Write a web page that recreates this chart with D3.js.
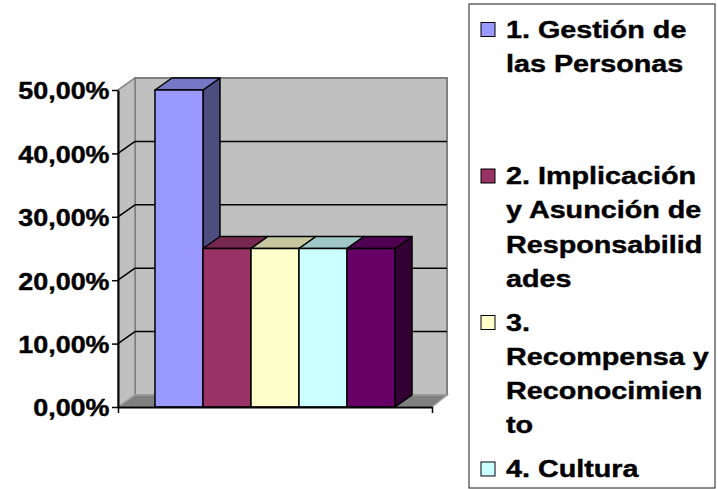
<!DOCTYPE html>
<html>
<head>
<meta charset="utf-8">
<script src="https://cdn.jsdelivr.net/npm/d3@7"></script>
<style>
  html, body { margin: 0; padding: 0; background: #ffffff; }
  svg { display: block; }
  text { font-family: "Liberation Sans", Arial, sans-serif; font-weight: bold; fill: #000; }
</style>
</head>
<body>
<svg id="chart" width="718" height="489"></svg>
<script>
// ---- data ----
const categories = ["Total"];
const seriesNames = [
  "1. Gestión de las Personas",
  "2. Implicación y Asunción de Responsabilidades",
  "3. Recompensa y Reconocimiento",
  "4. Cultura",
  "5."
];
const seriesValues = [0.50, 0.25, 0.25, 0.25, 0.25];
const seriesColors = ["#9999FF", "#993366", "#FFFFCC", "#CCFFFF", "#660066"];
const legendLines = [
  ["1. Gestión de", "las Personas"],
  ["2. Implicación", "y Asunción de", "Responsabilid", "ades"],
  ["3.", "Recompensa y", "Reconocimien", "to"],
  ["4. Cultura"],
  ["5."]
];
const yTicks = [0, 0.1, 0.2, 0.3, 0.4, 0.5];

// ---- layout ----
const svg = d3.select("#chart");
const front = { left: 118, right: 432, bottom: 407, top: 90 };
const DX = 17, DY = -12;         // 3D depth offset
const wallRight = 447;

const y = d3.scaleLinear().domain([0, 0.5]).range([front.bottom, front.top]);
const x0 = d3.scaleBand().domain(categories).range([front.left, front.right])
  .paddingInner(0).paddingOuter(0.154);
const x1 = d3.scaleBand().domain(seriesNames).range([0, x0.bandwidth()]).padding(0);

const esLocale = d3.formatLocale({ decimal: ",", thousands: ".", grouping: [3], currency: ["", " €"], percent: "%" });
const fmt = esLocale.format(".2%");

const shade = (c, k) => { const o = d3.rgb(c); return d3.rgb(o.r * k, o.g * k, o.b * k).formatHex(); };

// ---- walls & floor ----
const g = svg.append("g");
g.append("rect")
  .attr("x", front.left + DX).attr("y", y(0.5) + DY)
  .attr("width", wallRight - (front.left + DX))
  .attr("height", y(0) - y(0.5))
  .attr("fill", "#C0C0C0").attr("stroke", "#808080").attr("stroke-width", 2);
g.append("polygon")
  .attr("points", [
    [front.left, y(0)], [front.left, y(0.5)],
    [front.left + DX, y(0.5) + DY], [front.left + DX, y(0) + DY]
  ].map(p => p.join(",")).join(" "))
  .attr("fill", "#C0C0C0").attr("stroke", "#808080").attr("stroke-width", 1.5);
g.append("polygon")
  .attr("points", [
    [front.left, y(0)], [front.right, y(0)],
    [wallRight, y(0) + DY], [front.left + DX, y(0) + DY]
  ].map(p => p.join(",")).join(" "))
  .attr("fill", "#808080").attr("stroke", "#A0A0A0").attr("stroke-width", 1.5);

const grid = yTicks.filter(t => t > 0 && t < 0.5);
g.selectAll(".gside").data(grid).enter().append("line")
  .attr("x1", front.left).attr("y1", d => y(d))
  .attr("x2", front.left + DX).attr("y2", d => y(d) + DY)
  .attr("stroke", "#000").attr("stroke-width", 1.5);
g.selectAll(".gback").data(grid).enter().append("line")
  .attr("x1", front.left + DX).attr("y1", d => y(d) + DY)
  .attr("x2", wallRight).attr("y2", d => y(d) + DY)
  .attr("stroke", "#000").attr("stroke-width", 1.5);

// ---- bars ----
const bars = g.append("g");
seriesNames.forEach((name, i) => {
  const v = seriesValues[i];
  const c = seriesColors[i];
  const xa = x0(categories[0]) + x1(name);
  const xb = xa + x1.bandwidth();
  const yt = y(v), yb = y(0);
  const bg = bars.append("g");
  bg.append("polygon")
    .attr("points", [[xb, yt], [xb + DX, yt + DY], [xb + DX, yb + DY], [xb, yb]].map(p => p.join(",")).join(" "))
    .attr("fill", shade(c, 0.5)).attr("stroke", "#000").attr("stroke-width", 1.5).attr("stroke-linejoin", "round");
  bg.append("polygon")
    .attr("points", [[xa, yt], [xa + DX, yt + DY], [xb + DX, yt + DY], [xb, yt]].map(p => p.join(",")).join(" "))
    .attr("fill", shade(c, 0.78)).attr("stroke", "#000").attr("stroke-width", 1.5).attr("stroke-linejoin", "round");
  bg.append("rect")
    .attr("x", xa).attr("y", yt).attr("width", xb - xa).attr("height", yb - yt)
    .attr("fill", c).attr("stroke", "#000").attr("stroke-width", 1.5);
});

// ---- axes ----
const yAxis = d3.axisLeft(y).tickValues(yTicks).tickSize(6).tickSizeOuter(0).tickFormat(fmt);
const ya = svg.append("g").attr("transform", `translate(${front.left},0)`).call(yAxis);
ya.select(".domain").attr("stroke", "#000").attr("stroke-width", 2);
ya.selectAll(".tick line").attr("stroke", "#000").attr("stroke-width", 1.5);
ya.selectAll(".tick text")
  .attr("x", 0).attr("dy", "0.39em")
  .attr("transform", "translate(-8.5,0) scale(1.17,1)")
  .style("font-size", "23px").style("font-family", "'Liberation Sans', Arial, sans-serif")
  .style("font-weight", "bold").attr("fill", "#000")
  .attr("stroke", "#000").attr("stroke-width", 0.4);

const xl = d3.scaleLinear().domain([0, 1]).range([front.left, front.right]);
const xAxis = d3.axisBottom(xl).tickValues([0, 1]).tickSize(6).tickSizeOuter(0).tickFormat("");
const xa = svg.append("g").attr("transform", `translate(0,${front.bottom})`).call(xAxis);
xa.select(".domain").attr("stroke", "#000").attr("stroke-width", 2);
xa.selectAll(".tick line").attr("stroke", "#000").attr("stroke-width", 1.5);

// ---- legend ----
const legBox = { x: 469, y: 4, w: 246, h: 484 };
const leg = svg.append("g");
leg.append("rect")
  .attr("x", legBox.x).attr("y", legBox.y).attr("width", legBox.w).attr("height", legBox.h)
  .attr("fill", "#fff").attr("stroke", "#404040").attr("stroke-width", 1.2);
const firstBase = 37.5, slot = 146.5, lineStep = 34.3;
seriesNames.forEach((name, i) => {
  const base = firstBase + i * slot;
  const lines = legendLines[i];
  if (base + (lines.length - 1) * lineStep > legBox.y + legBox.h) return;
  const item = leg.append("g");
  item.append("rect")
    .attr("x", 481).attr("y", base - 15).attr("width", 14).attr("height", 14)
    .attr("fill", seriesColors[i]).attr("stroke", "#000").attr("stroke-width", 1);
  lines.forEach((ln, j) => {
    item.append("text")
      .attr("transform", `translate(506,${base + j * lineStep}) scale(1.25,1)`)
      .style("font-size", "23px")
      .attr("stroke", "#000").attr("stroke-width", 0.4)
      .text(ln);
  });
});
</script>
</body>
</html>
